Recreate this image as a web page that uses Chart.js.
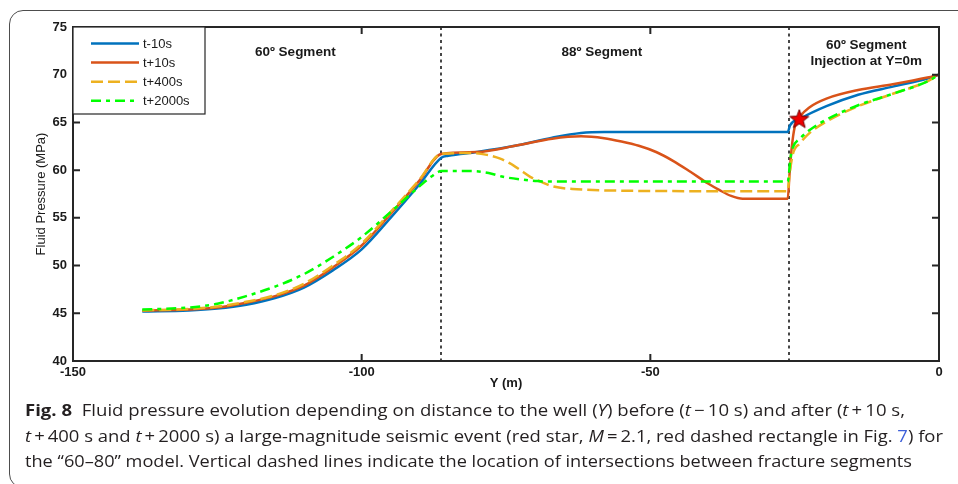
<!DOCTYPE html>
<html>
<head>
<meta charset="utf-8">
<script src="https://cdn.jsdelivr.net/npm/chart.js@4.4.1/dist/chart.umd.min.js"></script>
<style>
  body { margin: 0; background: #fff; width: 958px; height: 484px; overflow: hidden; position: relative; }
  #frame { position: absolute; left: 9px; top: 10px; width: 990px; height: 476px; border: 1px solid #4d4d4d; border-radius: 14px; }
  #wrap { position: absolute; left: 0; top: 0; width: 958px; height: 400px; }
  .cap { position: absolute; left: 25px; white-space: nowrap; font: 16.5px/20px 'Open Sans', sans-serif; color: #231f20; transform-origin: 0 0; }
  .cap b { font-weight: 700; }
  .cap .lnk { color: #3d5fd9; }
</style>
</head>
<body>
<div id="frame"></div>
<div id="wrap"><canvas id="pressure-chart" width="958" height="400"></canvas></div>
<div class="cap" style="top:400px" data-w="880"><b>Fig. 8</b>&nbsp; Fluid pressure evolution depending on distance to the well (<i>Y</i>) before (<i>t</i>&thinsp;−&thinsp;10 s) and after (<i>t</i>&thinsp;+&thinsp;10 s,</div>
<div class="cap" style="top:426px" data-w="918"><i>t</i>&thinsp;+&thinsp;400 s and <i>t</i>&thinsp;+&thinsp;2000 s) a large-magnitude seismic event (red star, <i>M</i>&thinsp;=&thinsp;2.1, red dashed rectangle in Fig. <span class="lnk">7</span>) for</div>
<div class="cap" style="top:451px" data-w="887">the “60–80” model. Vertical dashed lines indicate the location of intersections between fracture segments</div>
<script>
  // distance to the well Y (m) and fluid pressure (MPa) for each time
  var yMinus10 = [-138, -130, -125, -120, -115, -110, -105, -100, -95, -90, -86.2, -85, -80, -73, -67, -62, -58, -55, -40, -26.2, -25.8, -24, -19.5, -14, -8, -2, 0];
  var pMinus10 = [45.2, 45.3, 45.5, 45.9, 46.6, 47.7, 49.5, 51.7, 55.0, 58.5, 61.3, 61.5, 61.9, 62.6, 63.4, 63.9, 64.0, 64.0, 64.0, 64.0, 64.7, 65.4, 66.7, 67.9, 68.75, 69.6, 70];

  var yPlus10 = [-138, -130, -125, -120, -115, -110, -105, -100, -95, -90, -86.2, -80, -73, -67, -62, -58, -55, -52, -49, -46, -43, -40, -38, -36, -34, -26.2, -25.9, -25.5, -25, -24.1, -22.4, -19.5, -14, -8, -2, 0];
  var pPlus10 = [45.3, 45.4, 45.6, 46.1, 46.8, 47.9, 49.8, 52.1, 55.4, 58.9, 61.7, 61.9, 62.6, 63.3, 63.55, 63.35, 63.0, 62.55, 61.9, 60.95, 59.8, 58.6, 57.9, 57.3, 57.0, 57.0, 59.5, 62.4, 64.5, 65.6, 66.6, 67.5, 68.4, 69.0, 69.7, 70];

  var yPlus400 = [-138, -130, -125, -120, -115, -110, -105, -100, -95, -90, -86.2, -81, -78.3, -76, -74.3, -72.5, -70.8, -69, -66.9, -62.7, -55, -40, -26.2, -25.9, -25.3, -24.1, -22.4, -19.5, -14, -8, -2, 0];
  var pPlus400 = [45.3, 45.45, 45.7, 46.2, 46.9, 48.1, 50.0, 52.3, 55.6, 59.0, 61.7, 61.8, 61.6, 61.2, 60.7, 60.0, 59.3, 58.8, 58.3, 58.0, 57.85, 57.8, 57.8, 59.5, 61.7, 62.8, 63.9, 65.1, 66.7, 68.0, 69.3, 70];

  var yPlus2000 = [-138, -130, -125, -120, -115, -110, -105, -100, -95, -90, -88, -86.2, -81, -78, -75.5, -72, -69.6, -66, -55, -40, -26.2, -25.7, -25.3, -24.1, -22.4, -19.5, -14, -8, -2, 0];
  var pPlus2000 = [45.4, 45.6, 46.0, 46.8, 47.8, 49.1, 50.9, 53.0, 55.6, 58.3, 59.3, 59.9, 59.9, 59.7, 59.3, 59.0, 58.85, 58.8, 58.8, 58.8, 58.8, 61.4, 62.4, 63.3, 64.2, 65.3, 66.8, 68.0, 69.3, 70];

  // seismic event (red star)
  var eventY = [-24.2];
  var eventP = [65.4];

  // intersections between fracture segments
  var segmentBounds = [-86.2, -25.9];
  var segmentTitles = [['60º Segment'], ['88º Segment'], ['60º Segment', 'Injection at Y=0m']];

  var seriesLabels = ['t-10s', 't+10s', 't+400s', 't+2000s'];

  var toPoints = function (xs, ys) {
    return xs.map(function (x, i) { return { x: x, y: ys[i] }; });
  };

  var makeStar = function (r) {
    var c = document.createElement('canvas');
    var s = Math.ceil(r * 2 + 4);
    c.width = s; c.height = s;
    var g = c.getContext('2d');
    g.beginPath();
    for (var i = 0; i < 10; i++) {
      var rad = i % 2 === 0 ? r : r * 0.42;
      var ang = -Math.PI / 2 + i * Math.PI / 5;
      g.lineTo(s / 2 + rad * Math.cos(ang), s / 2 + 1 + rad * Math.sin(ang));
    }
    g.closePath();
    g.fillStyle = '#f00000';
    g.fill();
    g.strokeStyle = '#6e0000';
    g.lineWidth = 1;
    g.stroke();
    return c;
  };

  var axisColor = '#262626';

  var decorPlugin = {
    id: 'decor',
    beforeDatasetsDraw: function (chart) {
      var ctx = chart.ctx, a = chart.chartArea, xs = chart.scales.x;
      ctx.save();
      ctx.strokeStyle = '#1a1a1a';
      ctx.lineWidth = 1.6;
      ctx.setLineDash([3, 3.5]);
      segmentBounds.forEach(function (v) {
        var px = Math.round(xs.getPixelForValue(v));
        ctx.beginPath();
        ctx.moveTo(px, a.top);
        ctx.lineTo(px, a.bottom);
        ctx.stroke();
      });
      ctx.restore();
    },
    afterDraw: function (chart) {
      var ctx = chart.ctx, a = chart.chartArea, xs = chart.scales.x, ys = chart.scales.y;
      ctx.save();
      // box and inward ticks
      ctx.strokeStyle = axisColor;
      ctx.lineWidth = 2;
      ctx.strokeRect(a.left, a.top, a.right - a.left, a.bottom - a.top);
      ctx.beginPath();
      xs.ticks.forEach(function (t) {
        var px = xs.getPixelForValue(t.value);
        if (px <= a.left + 1 || px >= a.right - 1) return;
        ctx.moveTo(px, a.bottom); ctx.lineTo(px, a.bottom - 7);
        ctx.moveTo(px, a.top); ctx.lineTo(px, a.top + 7);
      });
      ys.ticks.forEach(function (t) {
        var py = ys.getPixelForValue(t.value);
        if (py <= a.top + 1 || py >= a.bottom - 1) return;
        ctx.moveTo(a.left, py); ctx.lineTo(a.left + 7, py);
        ctx.moveTo(a.right, py); ctx.lineTo(a.right - 7, py);
      });
      ctx.stroke();

      // legend
      ctx.fillStyle = '#fff';
      ctx.fillRect(a.left, a.top, 132, 87);
      ctx.lineWidth = 1.2;
      ctx.strokeRect(a.left, a.top, 132, 87);
      ctx.font = '13px "Liberation Sans", Arial, sans-serif';
      ctx.textBaseline = 'middle';
      ctx.textAlign = 'left';
      for (var i = 0; i < 4; i++) {
        var ds = chart.data.datasets[i];
        var ly = a.top + 16.5 + i * 19.1;
        ctx.strokeStyle = ds.borderColor;
        ctx.lineWidth = ds.borderWidth;
        ctx.setLineDash(ds.borderDash || []);
        ctx.beginPath();
        ctx.moveTo(a.left + 18, ly);
        ctx.lineTo(a.left + 66, ly);
        ctx.stroke();
        ctx.setLineDash([]);
        ctx.fillStyle = '#1a1a1a';
        ctx.fillText(ds.label, a.left + 70, ly + 1);
      }

      // segment titles
      ctx.font = 'bold 13.5px "Liberation Sans", Arial, sans-serif';
      ctx.textAlign = 'center';
      ctx.fillStyle = '#1a1a1a';
      var titleX = [-111.5, -58.4, -12.6];
      segmentTitles.forEach(function (lines, k) {
        var px = xs.getPixelForValue(titleX[k]);
        var top = lines.length > 1 ? a.top + 18 : a.top + 25;
        lines.forEach(function (s, j) { ctx.fillText(s, px, top + j * 16.5); });
      });

      // axis titles
      ctx.font = 'bold 13px "Liberation Sans", Arial, sans-serif';
      ctx.fillText('Y (m)', (a.left + a.right) / 2, a.bottom + 22);
      ctx.font = '13px "Liberation Sans", Arial, sans-serif';
      ctx.translate(41, (a.top + a.bottom) / 2);
      ctx.rotate(-Math.PI / 2);
      ctx.fillText('Fluid Pressure (MPa)', 0, 0);
      ctx.restore();
    }
  };

  var tickFont = { family: '"Liberation Sans", Arial, sans-serif', size: 13, weight: 'bold' };

  var pressureConfig = {
    type: 'line',
    data: {
      datasets: [{
        label: seriesLabels[0],
        data: toPoints(yMinus10, pMinus10),
        borderColor: '#0072bd',
        borderWidth: 2.5,
        order: 4
      }, {
        label: seriesLabels[1],
        data: toPoints(yPlus10, pPlus10),
        borderColor: '#d95319',
        borderWidth: 2.5,
        order: 3
      }, {
        label: seriesLabels[2],
        data: toPoints(yPlus400, pPlus400),
        borderColor: '#edb120',
        borderWidth: 2.5,
        borderDash: [12, 5],
        order: 2
      }, {
        label: seriesLabels[3],
        data: toPoints(yPlus2000, pPlus2000),
        borderColor: '#00ff00',
        borderWidth: 2.5,
        borderDash: [10, 5, 4, 5],
        order: 1
      }, {
        label: 'event',
        data: toPoints(eventY, eventP),
        showLine: false,
        pointRadius: 10,
        pointStyle: makeStar(10),
        order: 0
      }]
    },
    options: {
      responsive: false,
      animation: false,
      devicePixelRatio: 1,
      layout: {
        padding: { left: 0, top: 27, right: 19, bottom: 0 }
      },
      elements: {
        point: { radius: 0 },
        line: { cubicInterpolationMode: 'monotone', fill: false }
      },
      scales: {
        x: {
          type: 'linear',
          min: -150,
          max: 0,
          ticks: { stepSize: 50, font: tickFont, color: '#1a1a1a', padding: 4, maxRotation: 0 },
          grid: { display: false, drawTicks: false },
          border: { display: false },
          afterFit: function (scale) { scale.height = 39; }
        },
        y: {
          min: 40,
          max: 75,
          ticks: { stepSize: 5, font: tickFont, color: '#1a1a1a', padding: 6 },
          grid: { display: false, drawTicks: false },
          border: { display: false },
          afterFit: function (scale) { scale.width = 73; }
        }
      },
      plugins: {
        legend: { display: false },
        tooltip: { enabled: false }
      }
    },
    plugins: [decorPlugin]
  };

  window.onload = function () {
    var ctx = document.getElementById('pressure-chart').getContext('2d');
    window.pressureChart = new Chart(ctx, pressureConfig);
    document.querySelectorAll('.cap').forEach(function (el) {
      var w = el.getBoundingClientRect().width;
      el.style.transform = 'scaleX(' + (el.dataset.w / w) + ')';
    });
  };
</script>
</body>
</html>
